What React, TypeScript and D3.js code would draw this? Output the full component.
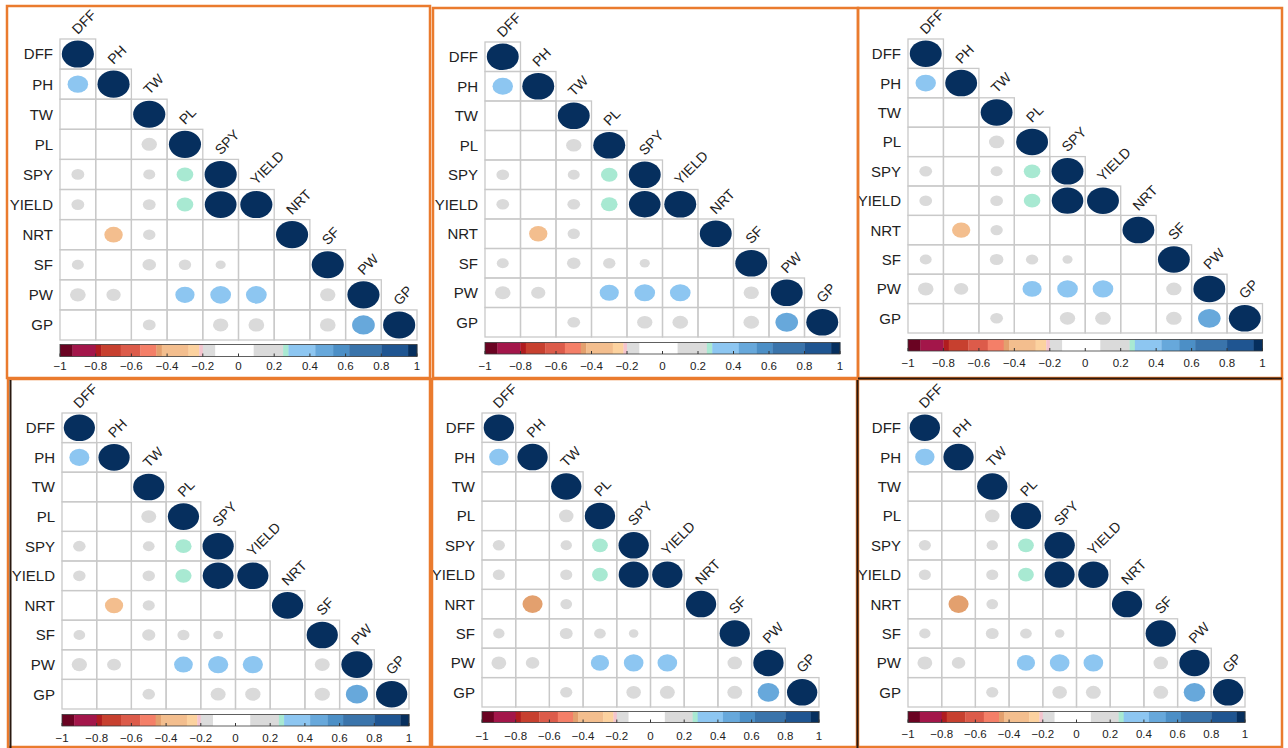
import React from 'react';
import * as d3 from 'd3';

// Trait names, in matrix order
const variables = ['DFF', 'PH', 'TW', 'PL', 'SPY', 'YIELD', 'NRT', 'SF', 'PW', 'GP'];

// Lower triangle of the correlation matrix, one row per trait (columns 0..i)
const rowDFF = [1];
const rowPH = [0.41, 1];
const rowTW = [0.03, 0.02, 1];
const rowPL = [0.05, 0.04, 0.23, 1];
const rowSPY = [0.16, 0.02, 0.14, 0.27, 1];
const rowYIELD = [0.16, 0.03, 0.16, 0.27, 0.98, 1];
const rowNRT = [0.02, -0.33, 0.15, 0.04, 0.03, 0.02, 1];
const rowSF = [0.14, 0.05, 0.18, 0.15, 0.1, 0.01, 0.04, 1];
const rowPW = [0.24, 0.2, 0.05, 0.36, 0.42, 0.42, 0.03, 0.23, 1];
const rowGP = [0.02, 0.03, 0.16, 0.06, 0.23, 0.24, 0.04, 0.24, 0.5, 1];
const corrRows = [rowDFF, rowPH, rowTW, rowPL, rowSPY, rowYIELD, rowNRT, rowSF, rowPW, rowGP];

// NRT–PH correlation in each of the six environments
const nrtPhByPanel = [-0.33, -0.33, -0.33, -0.34, -0.44, -0.44];

// Colour-bar tick labels
const tickValues = [-1, -0.8, -0.6, -0.4, -0.2, 0, 0.2, 0.4, 0.6, 0.8, 1];

// Stepped diverging palette: breakpoints and the colour of each band
const paletteBreaks = [-0.93, -0.8, -0.77, -0.66, -0.55, -0.46, -0.43, -0.28, -0.22, -0.2, -0.13,
  0.085, 0.25, 0.28, 0.43, 0.53, 0.62, 0.8, 0.95];
const paletteColors = ['#6A0322', '#A3164A', '#B01C1F', '#C7402F', '#DC5B4A', '#F47F68', '#E3A06E',
  '#F3BE8E', '#FCD29F', '#F4C4CE', '#DCDCDC', '#FFFFFF', '#DADADA', '#A8E9D2', '#8DC6F1',
  '#67A8DB', '#4C8FC6', '#3A74AB', '#1F5591', '#062F5E'];

const color = d3.scaleThreshold<number, string>().domain(paletteBreaks).range(paletteColors);

// Frame and grid geometry of each panel
const panels = [
  { box: [7, 6, 430, 378], x0: 60, y0: 39, cw: 35.7, ch: 30.1, barY: 344.5, barH: 12, labY: 369.5 },
  { box: [433, 8, 858, 378], x0: 485, y0: 42, cw: 35.5, ch: 29.5, barY: 342.5, barH: 11.5, labY: 369.5 },
  { box: [858, 8, 1282, 378], x0: 908, y0: 39, cw: 35.45, ch: 29.4, barY: 339.5, barH: 11.5, labY: 366.5 },
  { box: [8, 379, 430, 747], x0: 62, y0: 413, cw: 34.7, ch: 29.6, barY: 714.5, barH: 11.5, labY: 741.5 },
  { box: [432, 379, 858, 747], x0: 482, y0: 413, cw: 33.7, ch: 29.4, barY: 711.5, barH: 11, labY: 739.5 },
  { box: [857, 379, 1282, 747], x0: 908, y0: 413, cw: 33.7, ch: 29.4, barY: 711.5, barH: 11, labY: 737.5 },
];

const ORANGE = '#EA7B2E';
const FONT = '"Liberation Sans", Arial, Helvetica, sans-serif';
const INK = '#222';

function CorrPanel({ p, idx }: { p: typeof panels[number]; idx: number }) {
  const n = variables.length;
  const x = d3.scaleBand<number>().domain(d3.range(n)).range([p.x0, p.x0 + n * p.cw]);
  const y = d3.scaleBand<number>().domain(d3.range(n)).range([p.y0, p.y0 + n * p.ch]);
  const rx = d3.scaleSqrt().domain([0, 1]).range([0, 0.45 * p.cw]);
  const ry = d3.scaleSqrt().domain([0, 1]).range([0, 0.45 * p.ch]);
  const barX = d3.scaleLinear().domain([-1, 1]).range([p.x0, p.x0 + n * p.cw]);

  const value = (i: number, j: number) => (i === 6 && j === 1 ? nrtPhByPanel[idx] : corrRows[i][j]);

  const cells: React.ReactNode[] = [];
  const marks: React.ReactNode[] = [];
  for (let i = 0; i < n; i++) {
    for (let j = 0; j <= i; j++) {
      const v = value(i, j);
      cells.push(
        <rect key={`c${i}-${j}`} x={x(j)} y={y(i)} width={x.bandwidth()} height={y.bandwidth()}
          fill="none" stroke="#C9C9C9" strokeWidth={1.3} />
      );
      marks.push(
        <ellipse key={`e${i}-${j}`} cx={x(j)! + x.bandwidth() / 2} cy={y(i)! + y.bandwidth() / 2}
          rx={rx(Math.abs(v))} ry={ry(Math.abs(v))} fill={color(v)} />
      );
    }
  }

  const bands = [-1, ...paletteBreaks].map((b, k) => {
    const e = k < paletteBreaks.length ? paletteBreaks[k] : 1;
    return (
      <rect key={`b${k}`} x={barX(b)} y={p.barY} width={barX(e) - barX(b) + 0.3} height={p.barH}
        fill={paletteColors[k]} />
    );
  });

  return (
    <g>
      {cells}
      {marks}
      {variables.map((name, i) => (
        <text key={`r${name}`} x={p.x0 - 7} y={y(i)! + y.bandwidth() / 2} dy="0.36em" textAnchor="end"
          fontSize={15} fill={INK} fontFamily={FONT}>{name}</text>
      ))}
      {variables.map((name, i) => (
        <text key={`t${name}`} textAnchor="start" fontSize={14} fill={INK} fontFamily={FONT}
          transform={`translate(${x(i)! + x.bandwidth() / 2},${y(i)! - 4}) rotate(-45)`}>{name}</text>
      ))}
      {bands}
      <rect x={barX(-1)} y={p.barY} width={barX(1) - barX(-1)} height={p.barH} fill="none"
        stroke="#3a3a3a" strokeWidth={0.8} />
      {tickValues.map((t) => (
        <g key={`k${t}`}>
          <line x1={barX(t)} x2={barX(t)} y1={p.barY + p.barH} y2={p.barY + p.barH - 3}
            stroke="#333" strokeWidth={1} />
          <text x={barX(t)} y={p.labY} textAnchor="middle" fontSize={11.5} fill={INK}
            fontFamily={FONT}>{t === 0 ? '0' : d3.format('~g')(t)}</text>
        </g>
      ))}
    </g>
  );
}

export default function App() {
  return (
    <svg width={1288} height={748} style={{ position: 'absolute', left: 0, top: 0, background: '#fff' }}>
      <rect x={0} y={0} width={1288} height={748} fill="#fff" />
      {panels.map((p, k) => (
        <CorrPanel key={k} p={p} idx={k} />
      ))}
      {panels.map((p, k) => (
        <rect key={`f${k}`} x={p.box[0]} y={p.box[1]} width={p.box[2] - p.box[0]} height={p.box[3] - p.box[1]}
          fill="none" stroke={ORANGE} strokeWidth={2.5} />
      ))}
      {/* dark edges along some frames */}
      <line x1={858} x2={1282} y1={378.5} y2={378.5} stroke="#2b1a10" strokeWidth={2} />
      <line x1={10.5} x2={10.5} y1={380} y2={748} stroke="#2b1a10" strokeWidth={2} />
      <line x1={857.5} x2={857.5} y1={380} y2={748} stroke="#2b1a10" strokeWidth={2} />
    </svg>
  );
}
